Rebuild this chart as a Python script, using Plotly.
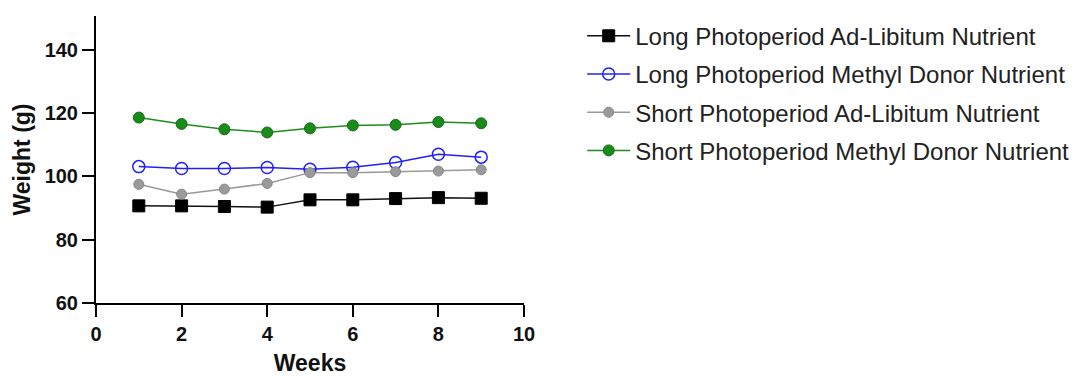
import plotly.graph_objects as go

weeks = [1, 2, 3, 4, 5, 6, 7, 8, 9]
long_adlib = [90.7, 90.7, 90.5, 90.3, 92.6, 92.6, 93.0, 93.3, 93.1]
long_methyl = [103.1, 102.5, 102.5, 102.8, 102.3, 102.9, 104.4, 107.0, 106.1]
short_adlib = [97.5, 94.4, 96.0, 97.8, 101.2, 101.2, 101.5, 101.7, 102.1]
short_methyl = [118.6, 116.6, 114.9, 113.9, 115.2, 116.1, 116.3, 117.2, 116.8]

names = [
    "Long Photoperiod Ad-Libitum Nutrient",
    "Long Photoperiod Methyl Donor Nutrient",
    "Short Photoperiod Ad-Libitum Nutrient",
    "Short Photoperiod Methyl Donor Nutrient",
]
y_ticks = [60, 80, 100, 120, 140]
x_ticks = [0, 2, 4, 6, 8, 10]

fig = go.Figure()
fig.add_trace(go.Scatter(
    x=weeks, y=long_adlib, name=names[0], mode="lines+markers", legendgroup="a",
    line=dict(color="#111111", width=1.5),
    marker=dict(symbol="square", size=12, color="#000000", line=dict(color="#000000", width=1)),
))
fig.add_trace(go.Scatter(
    x=weeks, y=long_methyl, name=names[1], mode="lines+markers", legendgroup="b",
    line=dict(color="#2020ff", width=1.5),
    marker=dict(symbol="circle-open", size=12, color="#2020ff", line=dict(color="#2020ff", width=1.5)),
))
fig.add_trace(go.Scatter(
    x=weeks, y=short_adlib, name=names[2], mode="lines+markers", legendgroup="c",
    line=dict(color="#999999", width=1.5),
    marker=dict(symbol="circle", size=10, color="#9a9a9a", line=dict(color="#888888", width=1)),
))
fig.add_trace(go.Scatter(
    x=weeks, y=short_methyl, name=names[3], mode="lines+markers", legendgroup="d",
    line=dict(color="#1e8c1e", width=1.5),
    marker=dict(symbol="circle", size=11, color="#1a8a1a", line=dict(color="#117011", width=1)),
))

axis_common = dict(
    showline=True, linecolor="#000000", linewidth=2,
    ticks="outside", ticklen=12, tickwidth=2, tickcolor="#000000",
    showgrid=False, zeroline=False,
    tickfont=dict(family="Liberation Sans", size=20, color="#111111", weight="bold"),
)

fig.update_layout(
    width=1077, height=376,
    margin=dict(l=96, r=553, t=16, b=73, autoexpand=False),
    paper_bgcolor="white", plot_bgcolor="white",
    font=dict(family="Liberation Sans", color="#111111"),
    showlegend=True,
    legend=dict(
        x=1.136, y=1.008, xanchor="left", yanchor="top",
        font=dict(family="Liberation Sans", size=24, color="#222222"),
        tracegroupgap=4, itemwidth=43, bgcolor="rgba(0,0,0,0)",
    ),
    xaxis=dict(
        range=[0, 10], tickvals=x_ticks, ticktext=[str(v) for v in x_ticks],
        title=dict(text="Weeks", font=dict(family="Liberation Sans", size=23, color="#111111", weight="bold"), standoff=18),
        **axis_common,
    ),
    yaxis=dict(
        range=[60, 150.7], tickvals=y_ticks, ticktext=[str(v) for v in y_ticks],
        title=dict(text="Weight (g)", font=dict(family="Liberation Sans", size=23, color="#111111", weight="bold"), standoff=8),
        **axis_common,
    ),
)

fig.write_html("out.html")
